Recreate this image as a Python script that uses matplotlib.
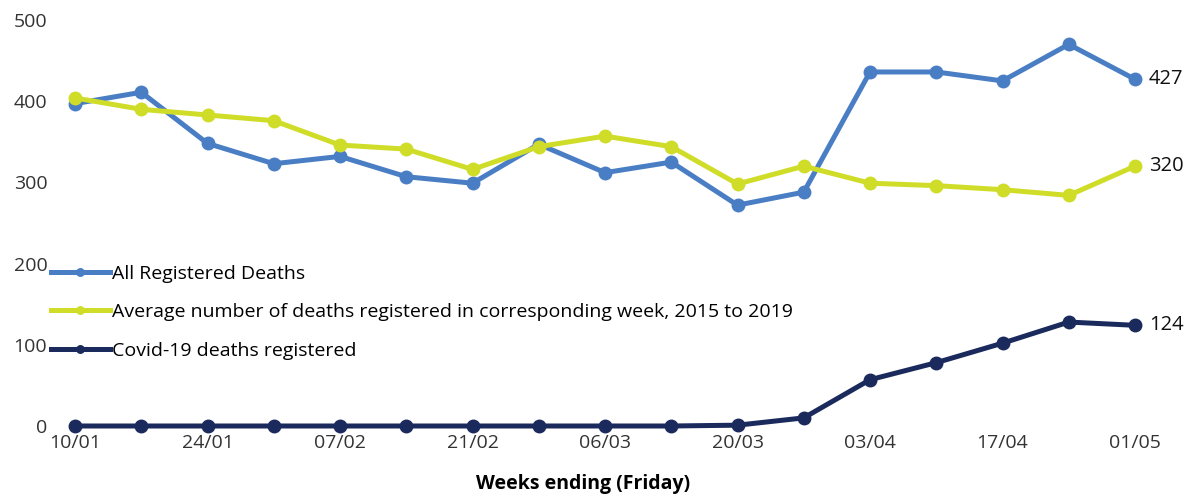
import numpy as np
import matplotlib.pyplot as plt

weeks = ['10/01', '17/01', '24/01', '31/01', '07/02', '14/02', '21/02', '28/02', '06/03',
         '13/03', '20/03', '27/03', '03/04', '10/04', '17/04', '24/04', '01/05']

all_deaths = [397, 411, 348, 323, 332, 307, 299, 347, 312, 325, 272, 288, 436, 436, 425, 470, 427]
avg_deaths = [404, 390, 383, 376, 346, 341, 316, 344, 357, 344, 298, 320, 299, 296, 291, 284, 320]
covid_deaths = [0, 0, 0, 0, 0, 0, 0, 0, 0, 0, 1, 10, 57, 78, 102, 128, 124]

c_blue = '#4a7ec4'
c_green = '#cfdd28'
c_navy = '#1b2a5c'

plt.rcParams['font.family'] = ['Open Sans', 'DejaVu Sans']

fig = plt.figure(figsize=(11.93, 4.95), dpi=100)
ax = fig.add_axes([0.0629, 0.1394, 0.8885, 0.8202])

x = np.arange(len(weeks))
ax.plot(x, all_deaths, color=c_blue, lw=3.6, marker='o', ms=9, clip_on=False,
        label='All Registered Deaths')
ax.plot(x, avg_deaths, color=c_green, lw=3.6, marker='o', ms=9, clip_on=False,
        label='Average number of deaths registered in corresponding week, 2015 to 2019')
ax.plot(x, covid_deaths, color=c_navy, lw=3.6, marker='o', ms=9, clip_on=False,
        label='Covid-19 deaths registered')

for s in [all_deaths, avg_deaths, covid_deaths]:
    ax.annotate(str(s[-1]), (x[-1], s[-1]), xytext=(10, 0), textcoords='offset points',
                va='center', ha='left', fontsize=14.5, color='#111111')

ax.set_xlim(0, 16)
ax.set_ylim(0, 500)
ax.set_yticks([0, 100, 200, 300, 400, 500])
ax.set_xticks(x[::2])
ax.set_xticklabels(weeks[::2])
ax.tick_params(length=0, labelsize=14, colors='#333333', pad=6)
ax.tick_params(axis='y', pad=20)
for sp in ax.spines.values():
    sp.set_visible(False)

ax.set_xlabel('Weeks ending (Friday)', fontsize=14, fontweight='bold')
ax.xaxis.set_label_coords(0.479, -0.119)

ax.legend(loc='upper left', bbox_to_anchor=(0.043, 0.465), bbox_transform=fig.transFigure,
          frameon=False, fontsize=14, handlelength=3.0, handletextpad=0.1,
          labelspacing=1.05, borderaxespad=0, borderpad=0, markerscale=0.6)

fig.savefig('out.png', dpi=100)
